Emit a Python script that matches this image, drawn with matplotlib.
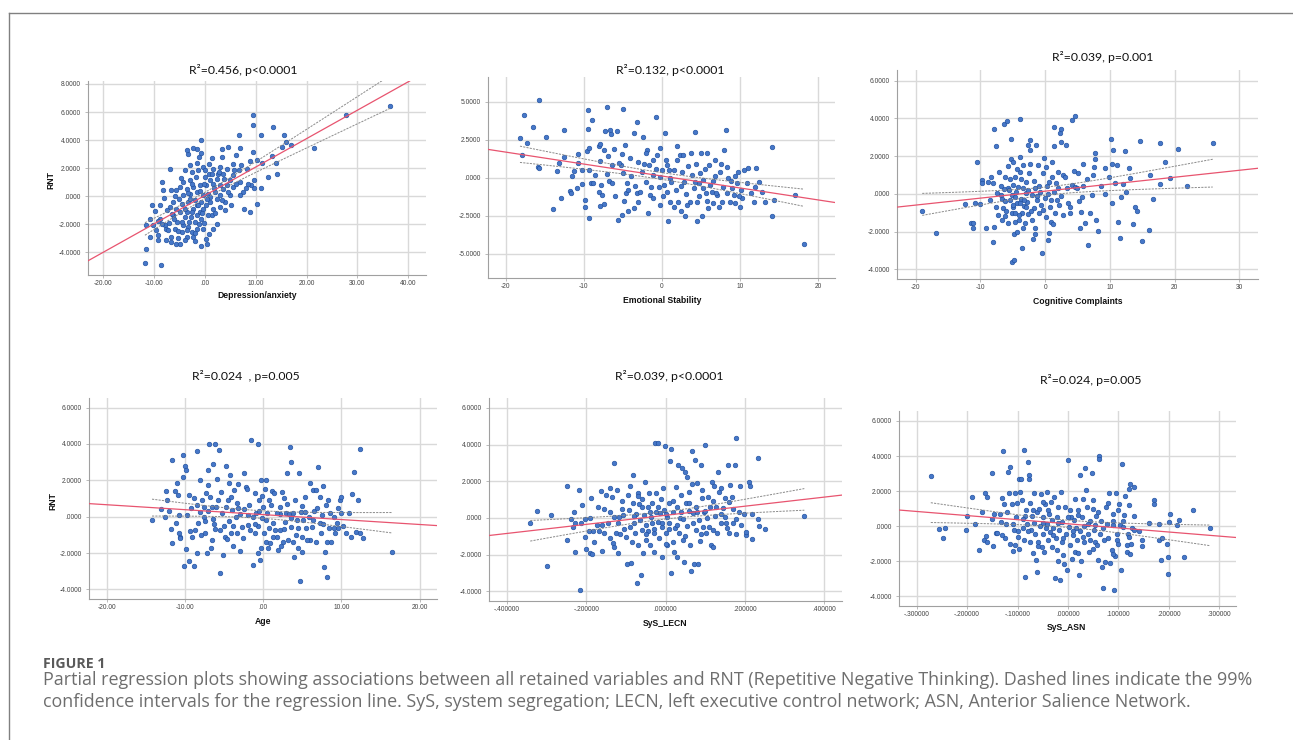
import numpy as np
import matplotlib.pyplot as plt
from matplotlib.lines import Line2D
from matplotlib.ticker import FuncFormatter, MultipleLocator

W, H = 1293, 740

# Partial residuals (x residual, RNT residual)
dep_pts = [
    (36.4, 6.44), (27.7, 5.77), (21.4, 3.45), (17.0, 3.64), (15.9, 3.83), (15.5, 4.35), (15.1, 3.52),
    (13.4, 4.9), (13.9, 2.38), (14.1, 1.62), (13.2, 2.85), (12.4, 1.38), (11.0, 4.35), (11.3, 2.4),
    (11.0, 0.59), (10.2, 2.61), (10.3, -0.52), (9.5, 5.77), (9.4, 5.1), (9.5, 3.16), (9.7, 1.14),
    (9.7, 0.59), (8.9, 2.5), (9.0, 0.83), (8.9, -1.12), (7.7, -0.93), (7.5, 0.31), (8.0, 0.62),
    (8.5, 0.9), (6.7, 4.35), (7.0, 3.45), (6.2, 2.92), (5.6, 2.33), (6.8, 1.85), (6.9, 1.02),
    (5.2, -0.64), (4.6, 3.52), (3.3, 3.35), (3.4, 2.8), (3.0, 2.1), (3.6, 1.62), (1.3, 2.69),
    (1.6, 1.97), (1.6, 0.9), (0.9, 1.62), (-0.3, 2.1), (0.0, 1.38), (0.3, 0.78), (0.7, 0.19),
    (1.1, -0.4), (1.3, -1.35), (1.5, -2.35), (2.3, -1.95), (0.2, -3.02), (0.5, -3.37), (-0.8, -3.54),
    (-0.7, 3.99), (-0.8, 3.11), (-1.6, 3.35), (-2.3, 3.45), (-3.3, 2.99), (-3.6, 3.28), (-1.6, 2.4),
    (-1.4, 1.85), (-2.6, 1.73), (-3.9, 1.85), (-3.0, 1.14), (-4.3, 1.02), (-4.9, 0.67), (-5.6, 0.43),
    (-6.9, 1.97), (-6.6, 0.43), (-6.2, -0.4), (-8.5, 1.02), (-8.2, 0.43), (-8.1, -0.12), (-10.5, -0.64),
    (-9.8, -1.07), (-10.8, -1.59), (-8.9, -1.59), (-9.2, -1.78), (-10.3, -2.07), (-11.5, -2.07),
    (-10.8, -2.9), (-9.2, -2.78), (-9.2, -3.14), (-7.9, -2.07), (-7.7, -2.3), (-6.6, -2.9),
    (-6.6, -3.26), (-7.7, -3.14), (-11.5, -3.73), (-11.8, -4.73), (-8.7, -4.87), (-5.6, -3.37),
    (-4.9, -3.37), (-5.2, -2.97), (-3.6, -2.9), (-2.3, -2.9), (-2.6, -2.54), (-1.6, -2.3),
    (-1.1, -1.95), (-0.3, -2.3), (-3.1, -1.83), (-4.3, -2.07), (-5.4, -1.83), (-6.2, -1.35),
    (-4.9, -1.12), (-3.6, -1.12), (-2.3, -0.88), (-1.6, -1.35), (-1.0, -1.12), (-0.3, -0.88),
    (0.3, -0.64), (-0.7, -0.4), (-2.0, -0.29), (-3.3, -0.4), (-4.6, -0.52), (-5.6, -0.88),
    (-6.9, -0.76), (-4.3, 0.07), (-3.0, 0.19), (-1.6, 0.31), (-0.3, 0.07), (1.0, -0.05), (2.0, 0.31),
    (2.3, -0.17), (3.0, 0.07), (3.6, 0.55), (4.3, 0.78), (4.9, 1.14), (5.6, 0.67), (3.0, 0.78),
    (2.3, 1.26), (1.0, 1.14), (-1.0, 0.78), (-2.3, 0.67), (-3.6, 0.55), (-3.0, -0.17), (-1.6, -0.64),
    (-2.6, -1.12), (-3.9, -1.47), (-4.6, -1.83), (-5.9, -2.3), (-7.2, -2.42), (-8.5, -1.95),
    (-4.6, -2.54), (-3.3, -2.19), (-2.0, -1.83), (-0.7, -1.59), (0.7, -1.35), (1.6, -0.88),
    (3.0, -0.76), (3.9, -0.4), (4.9, 0.07), (6.9, 0.07), (5.6, 1.5), (8.2, 1.97), (4.3, 1.97),
    (2.6, 1.62), (0.0, 1.85),
    (-7.5, -1.0), (-6.0, -1.6), (-5.0, -0.2), (-4.0, -0.9), (-3.5, -2.4), (-2.8, -1.5), (-2.0, -2.6),
    (-1.3, -0.6), (-0.5, -1.2), (0.5, -0.2), (1.8, 0.6), (2.8, 1.7), (3.8, 1.2), (4.5, 0.3),
    (5.8, 1.9), (-0.9, 0.4), (-2.6, 0.9), (-4.8, 1.3), (-6.4, -1.3), (-7.1, -1.9), (-5.3, -2.5),
    (-3.9, -3.1), (-1.9, -3.2), (0.9, -2.7), (2.0, -1.2), (3.3, -0.3), (-0.2, 0.9), (1.4, 1.6),
    (-1.8, 1.4), (-3.4, 0.2), (-5.8, 0.0), (-8.9, -0.6), (-9.6, -2.4), (-0.1, -1.9), (4.0, -1.0),
    (6.2, 0.9), (7.2, 2.2), (-1.2, 2.8), (-2.9, 2.2), (0.8, 2.3),
]

emo_pts = [
    (-15.8, 5.09), (-17.7, 4.12), (-18.2, 2.59), (-17.3, 2.26), (-16.5, 3.31), (-14.8, 2.70), (-12.6, 3.14),
    (-17.9, 1.50), (-15.9, 0.69), (-15.7, 0.67), (-12.6, 1.39), (-13.2, 1.0), (-13.5, 0.45), (-14.0, -2.05),
    (-12.9, -1.30), (-11.8, -0.86), (-11.7, -1.02), (-11.3, 0.45), (-10.8, 1.54), (-10.7, 0.95),
    (-10.9, -0.69), (-10.2, -0.43), (-10.2, 0.51), (-9.9, -1.45), (-9.6, 1.76), (-9.4, 1.94), (-9.5, 4.45),
    (-9.5, 3.21), (-9.0, 3.80), (-9.3, -2.66), (-9.3, 0.51), (-9.1, -0.36), (-8.8, -0.36), (-8.1, 2.11),
    (-7.9, 2.19), (-8.0, 1.10), (-8.1, -0.91), (-8.0, -1.83), (-7.7, -1.13), (-7.4, 1.83), (-7.3, 3.07),
    (-7.1, 4.63), (-6.6, 3.14), (-6.5, 2.86), (-7.4, -1.74), (-7.1, 0.23), (-6.8, -0.19), (-6.4, -0.36),
    (-6.2, 1.87), (-6.4, 0.84), (-5.7, 3.07), (-5.6, -2.76), (-5.1, -2.44), (-5.0, 4.52), (-5.1, 1.56),
    (-5.3, 0.84), (-5.0, 0.30), (-4.7, 2.15), (-4.9, -1.50), (-4.6, -1.02), (-4.3, -0.80), (-4.5, -0.36),
    (-4.1, 1.28), (-3.6, 2.96), (-3.2, 3.69), (-3.4, -0.51), (-3.6, -2.0), (-3.2, -1.02), (-3.1, 1.02),
    (-2.8, -0.91), (-2.4, 2.70), (-2.6, 0.40), (-2.1, -0.25), (-1.9, 1.83), (-1.7, 0.84), (-1.5, -1.13),
    (-1.2, 1.17), (-1.1, -1.34), (-1.1, 0.19), (-0.7, 4.02), (-0.6, 1.50), (-0.4, -0.58), (-0.2, 1.94),
    (-0.2, 0.08), (0.0, 0.51), (0.3, -0.47), (0.4, 2.92), (0.6, 0.84), (0.6, -0.91), (0.8, -2.81),
    (0.9, 0.51), (1.1, -1.56), (1.2, -0.25), (1.5, 0.51), (1.6, -1.89), (1.9, 1.17), (2.1, -1.56),
    (2.3, 1.50), (2.4, -0.53), (2.4, -2.18), (2.7, 1.50), (2.8, -0.25), (3.1, -1.08), (3.4, 0.78),
    (3.6, -1.56), (3.7, 1.61), (4.1, -0.69), (4.3, 3.03), (4.4, 0.91), (4.5, -2.83), (4.5, -1.56),
    (4.7, -0.36), (4.9, 0.30), (5.0, 1.65), (5.1, -2.48), (5.3, -0.64), (5.3, -0.14), (5.6, -1.02),
    (5.8, 1.65), (5.8, -1.50), (6.0, 0.84), (6.2, -0.47), (6.4, -0.91), (6.6, -1.67), (6.8, 0.12),
    (7.1, -1.13), (7.3, -1.89), (7.4, 0.40), (7.7, -1.56), (7.9, -0.58), (8.0, 1.83), (8.2, 3.14),
    (8.3, -1.02), (8.5, -0.03), (8.7, -1.56), (9.0, -0.69), (9.2, -1.13), (9.4, -1.67), (9.6, -0.36),
    (9.8, 0.40), (10.0, -1.89), (10.3, -1.34), (10.5, 0.51), (10.9, -0.36), (11.1, 0.62), (11.8, -1.56),
    (12.0, -0.58), (12.1, 0.62), (12.4, -0.30), (13.2, -1.56), (14.1, 2.05), (14.1, -2.48), (14.4, -1.45),
    (17.1, -1.13), (18.2, -4.34),
    (-8.6, 0.2), (-7.8, -0.5), (-6.0, -1.2), (-5.5, 1.0), (-4.0, 0.1), (-3.0, -1.6), (-2.3, 0.9),
    (-1.4, -0.6), (-0.8, 0.6), (0.2, -1.2), (1.0, 0.0), (1.8, -0.8), (2.6, 0.4), (3.2, -1.8),
    (3.9, 0.2), (4.8, -1.2), (5.5, 0.6), (6.5, -0.2), (7.0, -1.0), (7.6, 0.9), (8.8, -0.2),
    (9.4, 0.1), (10.2, -0.8), (11.4, -1.0), (-11.5, 0.1), (-9.8, -1.9), (-6.9, 1.4), (-4.4, -2.2),
    (-2.0, 1.6), (0.5, 1.2), (2.0, 2.1), (3.0, -2.5), (5.9, -2.0), (6.8, 1.2), (8.4, 0.7),
    (-1.8, -2.3), (-0.3, -1.8), (4.2, -0.3), (9.9, -1.2), (12.8, -0.9),
]

cog_pts = [
    (-19.0, -0.93), (-16.9, -2.06), (-12.4, -0.56), (-11.5, -1.56), (-11.1, -1.56), (-11.1, -1.78),
    (-10.9, -0.47), (-10.6, 1.71), (-10.0, -0.54), (-9.7, 0.74), (-9.7, 0.56), (-9.1, -1.78), (-8.8, 0.65),
    (-8.3, 0.91), (-8.0, 0.59), (-8.0, -2.57), (-7.9, 3.44), (-7.9, -1.74), (-7.6, 2.54), (-7.6, -0.68),
    (-7.5, 0.06), (-7.1, 1.18), (-6.8, -0.06), (-6.7, -0.29), (-6.6, -1.39), (-6.5, -0.77), (-6.4, 3.69),
    (-6.3, 0.26), (-6.2, -1.18), (-6.2, 0.91), (-5.9, 3.88), (-5.8, 1.48), (-5.7, -1.53), (-5.7, 0.33),
    (-5.4, -0.33), (-5.3, 2.91), (-5.3, 1.83), (-5.2, -3.59), (-5.2, -0.06), (-5.1, -1.0), (-5.0, 0.47),
    (-4.9, 1.71), (-4.9, -0.68), (-4.8, -3.51), (-4.8, -2.12), (-4.7, 0.91), (-4.7, -1.48), (-4.6, -0.15),
    (-4.4, -2.0), (-4.3, -0.47), (-4.2, 0.38), (-4.0, -1.39), (-3.9, 3.97), (-3.9, 1.94), (-3.9, 1.18),
    (-3.8, -0.29), (-3.6, -2.89), (-3.6, -1.0), (-3.5, 0.29), (-3.4, 1.53), (-3.3, -0.65), (-3.1, -1.53),
    (-3.0, 0.03), (-2.9, 0.65), (-2.8, -0.41), (-2.6, 2.59), (-2.6, -1.07), (-2.5, 1.09), (-2.4, 2.86),
    (-2.3, 2.32), (-2.1, -0.06), (-1.9, -2.41), (-1.8, -0.77), (-1.6, -1.83), (-1.5, 0.29), (-1.4, 2.59),
    (-1.3, -0.33), (-1.1, 1.53), (-1.0, -1.03), (-0.8, 0.12), (-0.5, -3.12), (-0.4, -0.86), (-0.3, 1.09),
    (0.0, -0.24), (0.1, 1.44), (0.2, -1.21), (0.5, -2.45), (0.6, 0.65), (0.6, -2.09), (0.7, -0.68),
    (0.9, -1.48), (1.0, 0.91), (1.1, 1.71), (1.3, 3.53), (1.3, 2.54), (1.4, 0.12), (1.5, -1.0),
    (1.8, -0.33), (2.0, 1.18), (2.1, -0.59), (2.3, 3.21), (2.4, 2.77), (2.5, 3.42), (2.7, 1.0),
    (2.8, -1.12), (3.2, 2.59), (3.3, 0.29), (3.6, -0.5), (3.8, -1.03), (4.1, 0.47), (4.2, 3.92),
    (4.6, 4.13), (4.6, 0.38), (4.9, 0.29), (5.1, 1.09), (5.3, -0.36), (5.4, -1.83), (5.5, -0.94),
    (5.7, -0.15), (5.9, 1.58), (6.1, -1.56), (6.4, 0.77), (6.7, -2.71), (7.2, -0.06), (7.4, 1.0),
    (7.6, 1.44), (7.7, 2.15), (7.7, 1.83), (7.8, -1.39), (8.1, -1.95), (9.3, 0.0), (9.2, 1.35),
    (9.8, 0.91), (10.2, 2.91), (10.3, -0.5), (10.3, 1.58), (10.5, 2.32), (10.8, 0.59), (11.1, 1.53),
    (11.2, -1.48), (11.6, -2.36), (11.8, -0.15), (12.1, 0.52), (12.4, 2.27), (12.5, 0.12), (12.9, 1.35),
    (13.1, 0.82), (13.6, -1.62), (13.9, -0.68), (14.2, -0.88), (14.6, 2.82), (14.9, -2.5), (16.2, 1.0),
    (16.7, -0.26), (16.0, -1.92), (17.8, 0.52), (17.7, 2.68), (18.6, 1.71), (19.3, 0.86), (20.6, 2.36),
    (21.9, 0.42), (25.9, 2.71),
    (-6.9, 0.4), (-6.0, -0.9), (-5.5, 0.8), (-5.0, -0.6), (-4.5, 0.1), (-4.1, -1.1), (-3.7, 0.8),
    (-3.2, -0.3), (-2.7, 0.2), (-2.2, -0.9), (-1.7, 0.7), (-1.2, -0.1), (-0.6, -0.6), (0.3, 0.4),
    (0.9, -0.3), (1.6, 0.6), (2.4, -0.1), (3.0, 0.9), (-3.5, -1.8), (-2.0, -1.4), (-6.2, -0.4),
    (-4.4, 1.3), (-2.4, 1.6), (-0.2, 1.9), (1.2, -1.6), (3.9, -0.7), (4.4, 1.2), (5.8, 0.4),
    (7.0, -1.0), (8.6, 0.4), (-7.3, -1.1), (-8.6, -0.3), (-1.5, -2.1), (0.4, 0.0), (-3.9, -0.5),
    (-5.6, 0.2), (2.0, 0.3), (-2.9, -0.7), (-4.6, -1.0), (-1.0, 0.4),
]

age_pts = [
    (-14.2, -0.19), (-13.1, 0.41), (-12.6, -0.01), (-12.4, 1.40), (-12.3, 0.91), (-11.6, 3.11), (-11.6, -1.47),
    (-11.3, 1.42), (-11.1, -0.37), (-11.0, 1.85), (-10.9, 1.18), (-10.8, -0.92), (-10.7, 0.08), (-10.6, -1.11),
    (-10.6, -1.20), (-10.3, 3.42), (-10.3, 2.19), (-10.1, -2.72), (-10.0, 2.81), (-9.8, 2.56), (-9.7, 0.08),
    (-9.5, 1.22), (-9.5, -2.43), (-9.3, -0.78), (-9.1, -1.11), (-8.9, 1.00), (-8.9, -2.70), (-8.7, -0.74),
    (-8.5, 0.64), (-8.4, 3.62), (-8.4, -2.02), (-8.3, -0.37), (-8.1, 2.04), (-8.1, 0.27), (-7.8, 0.91),
    (-7.6, -0.01), (-7.5, 0.54), (-7.4, -0.24), (-7.4, -0.88), (-7.2, -2.02), (-7.1, 2.59), (-7.0, 1.73),
    (-7.0, 0.32), (-6.9, 4.02), (-6.8, 1.09), (-6.7, -1.71), (-6.6, 0.54), (-6.4, 2.92), (-6.4, -0.15),
    (-6.2, 3.98), (-6.1, -0.70), (-6.0, 0.54), (-5.9, 2.10), (-5.7, 3.66), (-5.5, -3.08), (-5.5, -0.74),
    (-5.4, 1.36), (-5.3, 0.18), (-5.1, -2.11), (-4.9, -1.11), (-4.8, 2.77), (-4.7, 0.54), (-4.6, -1.25),
    (-4.4, 1.83), (-4.4, -0.23), (-4.2, 2.28), (-4.1, -0.92), (-4.0, 0.36), (-3.8, -0.52), (-3.7, 1.46),
    (-3.5, -0.01), (-3.4, 0.73), (-3.3, -0.92), (-3.2, 1.81), (-3.0, 0.14), (-2.7, -0.56), (-2.4, 0.40),
    (-2.2, 1.64), (-2.1, 1.55), (-2.0, -0.47), (-1.8, 0.64), (-1.7, -0.74), (-1.5, 4.20), (-1.3, -2.66),
    (-1.3, -0.01), (-1.1, 1.31), (-1.0, -0.92), (-0.9, 0.18), (-0.7, 4.02), (-0.7, -2.02), (-0.6, -0.52),
    (-0.5, 0.91), (-0.4, -2.39), (-0.3, 2.01), (-0.3, -1.71), (-0.2, -0.10), (-0.1, 1.13), (0.0, 0.54),
    (0.1, -0.92), (0.2, 1.51), (0.4, -1.38), (0.4, 2.01), (0.5, 0.18), (0.7, -0.65), (0.9, -1.47),
    (1.0, 0.64), (1.1, 1.42), (1.2, -0.37), (1.4, 1.31), (1.5, -0.74), (1.7, -1.14), (1.9, -1.83),
    (2.1, 0.54), (2.1, 0.14), (2.2, -0.74), (2.4, 1.37), (2.5, -1.38), (2.6, 1.00), (2.8, -0.28),
    (2.9, 0.18), (3.1, 2.38), (3.2, -1.29), (3.3, 0.14), (3.4, 3.86), (3.6, 3.01), (3.6, -0.56),
    (3.8, 0.21), (3.8, -1.38), (3.9, -2.20), (4.1, 0.91), (4.3, -0.19), (4.4, -1.73), (4.5, -0.65),
    (4.6, 2.38), (4.7, -3.54), (4.8, 0.27), (4.9, -1.11), (5.0, -1.93), (5.1, -0.19), (5.3, 0.27),
    (5.5, -0.65), (5.8, -0.01), (6.0, -1.29), (6.0, 1.86), (6.2, -0.56), (6.4, 1.46), (6.5, 0.32),
    (6.7, -1.38), (6.8, 1.46), (7.0, 2.74), (7.2, 1.09), (7.2, -0.37), (7.5, 0.08), (7.6, 1.68),
    (7.8, -2.79), (7.9, -1.93), (8.0, 0.64), (8.1, -1.38), (8.2, -3.34), (8.3, 0.91), (8.4, -0.65),
    (8.7, -1.38), (9.0, -0.01), (9.2, -0.92), (9.4, -0.37), (9.6, -0.65), (9.8, 0.91), (10.0, 1.09),
    (10.0, 0.21), (10.2, -0.52), (10.6, -0.92), (11.0, 0.18), (11.2, -1.11), (11.3, 1.27), (11.6, 2.46),
    (11.8, -0.83), (12.1, 0.91), (12.4, -0.92), (12.4, 3.75), (12.8, -1.20), (16.5, -1.93),
    (-9.2, 0.5), (-8.0, -1.0), (-7.3, 1.3), (-6.3, -0.4), (-5.8, 0.9), (-5.0, -0.5), (-4.5, 0.9),
    (-3.9, -1.6), (-3.2, 0.5), (-2.6, -1.2), (-1.9, 0.1), (-1.1, -0.4), (-0.5, 0.3), (0.3, -0.2),
    (0.8, 0.9), (1.3, -1.1), (1.8, 0.2), (2.6, -0.7), (3.0, 0.7), (3.5, -0.1), (4.2, -1.0),
    (4.9, 0.6), (5.6, -1.3), (6.3, -0.2), (6.9, 0.5), (7.4, -0.9), (8.5, 0.2), (9.1, -0.6),
    (-12.0, 0.3), (-11.8, -0.7), (-9.9, -1.8), (-6.6, -1.3), (-2.9, -1.9), (0.6, -1.7), (2.3, -1.6),
    (5.4, 1.1), (7.7, -0.4), (9.5, 0.5), (-4.1, 1.1), (-2.5, 2.4),
]

lecn_pts = [
    (-0.341, -0.26), (-0.324, 0.37), (-0.299, -2.62), (-0.288, 0.17), (-0.249, 1.75), (-0.249, -1.21),
    (-0.238, -0.08), (-0.233, -0.52), (-0.231, 0.30), (-0.229, -1.88), (-0.227, -0.30), (-0.217, 1.52),
    (-0.215, -3.93), (-0.213, -0.30), (-0.204, -1.06), (-0.203, -0.08), (-0.200, -1.72), (-0.194, -0.70),
    (-0.190, -1.89), (-0.187, 1.06), (-0.185, -1.97), (-0.182, -0.70), (-0.173, -0.39), (-0.168, -0.72),
    (-0.162, 1.48), (-0.160, -1.79), (-0.156, 0.46), (-0.154, -0.81), (-0.150, 1.24), (-0.146, -0.26),
    (-0.141, 1.64), (-0.140, -1.11), (-0.135, 1.12), (-0.133, -1.39), (-0.131, 0.07), (-0.129, 3.00),
    (-0.125, -0.81), (-0.123, 1.55), (-0.121, -1.89), (-0.116, 0.07), (-0.115, -0.88), (-0.110, 0.94),
    (-0.108, 0.16), (-0.104, -0.63), (-0.100, -1.02), (-0.097, -2.51), (-0.095, 1.24), (-0.093, 0.43),
    (-0.090, 1.74), (-0.087, -2.48), (-0.085, -1.30), (-0.083, 0.79), (-0.081, 2.33), (-0.079, -0.26),
    (-0.076, -0.84), (-0.074, 0.21), (-0.072, -3.53), (-0.070, 1.34), (-0.069, -1.48), (-0.066, 0.75),
    (-0.064, -0.12), (-0.062, -3.11), (-0.060, -0.66), (-0.058, 1.01), (-0.056, -1.93), (-0.054, 0.16),
    (-0.051, 1.97), (-0.049, -1.21), (-0.048, -0.39), (-0.045, 0.61), (-0.043, -0.70), (-0.041, 1.34),
    (-0.039, -1.48), (-0.037, 0.07), (-0.034, 0.83), (-0.033, -0.30), (-0.030, -0.84), (-0.028, -1.84),
    (-0.026, 4.06), (-0.024, 0.34), (-0.023, 1.37), (-0.020, 4.06), (-0.018, -0.21), (-0.016, -1.11),
    (-0.014, 0.25), (-0.012, 1.01), (-0.009, -2.15), (-0.008, -0.48), (-0.006, 1.64), (-0.003, 0.43),
    (-0.002, 3.92), (0.001, -0.84), (0.003, 0.07), (0.005, -1.48), (0.008, 0.79), (0.009, -0.30),
    (0.012, 3.09), (0.013, -3.02), (0.015, 3.78), (0.018, -1.30), (0.019, 0.34), (0.022, -1.84),
    (0.024, -0.57), (0.026, 1.70), (0.028, -2.11), (0.030, 0.61), (0.032, 2.91), (0.034, -0.84),
    (0.036, -0.03), (0.038, 1.24), (0.041, 2.75), (0.043, -1.21), (0.044, -0.08), (0.047, -2.39),
    (0.049, 2.51), (0.051, 0.79), (0.053, 2.24), (0.055, -0.44), (0.058, 0.39), (0.061, -1.48),
    (0.064, -2.88), (0.066, 3.64), (0.068, 1.84), (0.069, 0.25), (0.072, -2.51), (0.074, 3.15),
    (0.076, -0.66), (0.078, 0.61), (0.080, 1.88), (0.083, -2.51), (0.085, -0.12), (0.087, -1.24),
    (0.089, 2.88), (0.091, 1.06), (0.093, 1.52), (0.095, -0.48), (0.097, 0.34), (0.100, 4.00),
    (0.101, -0.84), (0.105, -0.03), (0.108, 1.15), (0.111, 0.61), (0.114, -1.48), (0.116, 1.97),
    (0.120, -0.66), (0.122, 1.74), (0.125, 0.10), (0.128, 0.61), (0.133, 2.51), (0.135, 1.43),
    (0.139, -0.30), (0.141, 1.61), (0.145, 0.52), (0.150, 0.07), (0.153, -0.26), (0.156, -0.57),
    (0.158, 2.88), (0.160, 0.88), (0.162, 1.79), (0.167, 1.12), (0.170, -0.26), (0.175, 2.88),
    (0.177, -0.08), (0.179, 4.38), (0.179, -0.88), (0.185, 0.34), (0.189, 1.74), (0.197, 0.21),
    (0.202, -0.93), (0.203, -0.75), (0.210, 1.97), (0.212, 1.74), (0.217, -1.13), (0.218, 0.21),
    (0.233, 3.27), (0.233, -0.08), (0.235, -0.44), (0.250, -0.62), (0.350, 0.10),
    (-0.19, 0.0), (-0.17, 0.6), (-0.16, -0.4), (-0.14, 0.3), (-0.12, -0.3), (-0.11, 0.5), (-0.09, -0.5),
    (-0.08, 0.1), (-0.06, 0.6), (-0.05, -0.9), (-0.04, 0.3), (-0.03, -0.6), (-0.02, 0.6), (-0.01, -0.3),
    (0.00, 0.2), (0.01, -0.6), (0.02, 0.9), (0.03, -0.4), (0.04, 0.3), (0.05, -1.0), (0.06, 0.8),
    (0.07, -0.3), (0.08, 0.3), (0.09, -0.9), (0.10, 0.4), (0.11, -0.5), (0.12, 0.9), (0.13, -0.8),
    (0.14, 0.2), (0.16, -0.8), (0.17, 0.5), (0.19, -0.4), (-0.21, 0.7), (-0.18, -1.3), (-0.13, -1.6),
    (-0.07, 1.2), (0.0, -1.4), (0.06, 1.4), (0.12, -1.6), (0.15, 1.1),
]

asn_pts = [
    (-0.272, 2.86), (-0.255, -0.17), (-0.247, -0.67), (-0.244, -0.08), (-0.202, -0.19), (-0.191, 1.68),
    (-0.184, 0.11), (-0.176, -1.37), (-0.166, -0.76), (-0.164, 1.87), (-0.162, -0.55), (-0.160, 1.68),
    (-0.151, 3.05), (-0.148, -1.12), (-0.146, 0.69), (-0.143, -0.38), (-0.140, -0.38), (-0.135, 0.72),
    (-0.133, 0.25), (-0.129, 4.29), (-0.126, 1.26), (-0.125, -0.70), (-0.123, 0.11), (-0.118, 3.10),
    (-0.116, 1.90), (-0.115, -0.99), (-0.114, 3.39), (-0.111, 1.26), (-0.109, 0.11), (-0.108, -0.23),
    (-0.106, -1.09), (-0.105, 1.87), (-0.103, 0.53), (-0.102, 1.33), (-0.100, -0.27), (-0.098, -1.31),
    (-0.097, 2.67), (-0.095, 1.96), (-0.094, 2.72), (-0.092, 1.49), (-0.090, -0.13), (-0.088, -0.76),
    (-0.087, 4.34), (-0.086, 0.59), (-0.085, -2.90), (-0.083, 0.95), (-0.082, 0.15), (-0.080, 3.68),
    (-0.078, 2.91), (-0.077, 2.67), (-0.076, -0.90), (-0.075, 1.30), (-0.074, -0.19), (-0.072, 0.57),
    (-0.070, -1.52), (-0.068, 1.90), (-0.067, 0.19), (-0.065, -0.42), (-0.063, -1.90), (-0.062, 0.82),
    (-0.061, -2.61), (-0.059, -0.90), (-0.057, 1.01), (-0.055, 0.00), (-0.054, 1.83), (-0.052, -1.18),
    (-0.050, 0.53), (-0.049, -0.42), (-0.047, -1.47), (-0.045, 1.24), (-0.044, -0.13), (-0.042, 0.15),
    (-0.041, 1.96), (-0.039, -0.76), (-0.037, 0.72), (-0.035, -0.32), (-0.034, 1.39), (-0.032, -1.18),
    (-0.031, 0.38), (-0.029, -0.13), (-0.027, 1.64), (-0.025, -2.93), (-0.024, -0.70), (-0.022, 0.53),
    (-0.021, -1.33), (-0.019, 1.10), (-0.017, -0.19), (-0.016, -3.05), (-0.014, 1.96), (-0.012, -0.90),
    (-0.011, 0.25), (-0.009, -1.66), (-0.008, -2.17), (-0.006, 1.10), (-0.004, -0.42), (-0.002, -2.51),
    (-0.001, 3.77), (0.001, -0.04), (0.003, 0.95), (0.004, -1.09), (0.006, 0.53), (0.008, -1.85),
    (0.010, -0.51), (0.011, 0.34), (0.013, 1.58), (0.014, -1.47), (0.016, -0.08), (0.018, -0.80),
    (0.019, 0.63), (0.021, -2.80), (0.023, -0.27), (0.024, 2.91), (0.025, -1.98), (0.027, 0.53),
    (0.029, 1.58), (0.031, -0.90), (0.032, 0.00), (0.034, 3.30), (0.036, 2.06), (0.037, 1.10),
    (0.039, -0.42), (0.041, -1.47), (0.043, 0.30), (0.044, -0.76), (0.047, 3.05), (0.049, 1.01),
    (0.051, -0.23), (0.053, -0.90), (0.054, 0.06), (0.056, 0.57), (0.058, -1.09), (0.061, 4.00),
    (0.062, 3.81), (0.064, -0.42), (0.066, 0.30), (0.067, -2.32), (0.069, -3.50), (0.072, -0.80),
    (0.074, -2.02), (0.076, 1.10), (0.077, 0.10), (0.080, 1.30), (0.082, 1.87), (0.084, -2.10),
    (0.087, -1.37), (0.089, 0.72), (0.090, 0.06), (0.092, -3.62), (0.094, -1.71), (0.096, 1.87),
    (0.097, -0.42), (0.098, -0.76), (0.100, 0.95), (0.102, 1.26), (0.104, 0.06), (0.105, -2.51),
    (0.107, 3.52), (0.109, -0.04), (0.111, 0.63), (0.113, 1.71), (0.116, -1.47), (0.117, -1.09),
    (0.118, -0.42), (0.120, 1.20), (0.121, 2.10), (0.122, 2.40), (0.123, -1.56), (0.125, -0.99),
    (0.127, -0.13), (0.130, 2.25), (0.131, -0.23), (0.146, -0.80), (0.146, -1.14), (0.171, 1.49),
    (0.171, 1.26), (0.180, 0.15), (0.180, -0.80), (0.184, -1.90), (0.186, -0.65), (0.196, -1.03),
    (0.199, -2.70), (0.199, -1.75), (0.201, 0.25), (0.203, 0.72), (0.217, 0.06), (0.221, 0.38),
    (0.229, -1.75), (0.248, 0.91), (0.282, -0.08),
    (-0.15, 0.4), (-0.13, -0.5), (-0.12, 0.8), (-0.10, -0.6), (-0.09, 0.4), (-0.08, -0.3), (-0.07, 0.9),
    (-0.06, -1.1), (-0.05, 0.2), (-0.04, 0.9), (-0.03, -0.5), (-0.02, 0.2), (-0.01, -0.7), (0.00, 0.5),
    (0.01, -0.3), (0.02, 0.9), (0.03, -0.6), (0.04, 0.1), (0.05, -1.3), (0.06, 0.8), (0.07, -0.1),
    (0.08, -0.7), (0.09, 0.3), (0.10, -1.0), (0.11, 0.3), (0.12, -0.6), (0.13, 0.6), (-0.17, 0.8),
    (-0.16, -0.9), (-0.11, -1.4), (-0.05, 1.4), (0.02, -1.5), (0.05, 1.5), (0.09, -1.6), (0.14, -0.3),
    (-0.13, 1.6), (-0.02, -2.0), (0.06, -1.9), (0.16, 0.2), (-0.20, 0.6),
]

titles = ["R²=0.456, p<0.0001", "R²=0.132, p<0.0001", "R²=0.039, p=0.001",
          "R²=0.024  , p=0.005", "R²=0.039, p<0.0001", "R²=0.024, p=0.005"]
xlabels = ["Depression/anxiety", "Emotional Stability", "Cognitive Complaints",
           "Age", "SyS_LECN", "SyS_ASN"]
ylabels = ["RNT", "", "", "RNT", "", ""]
caption_head = "FIGURE 1"
caption_lines = [
    "Partial regression plots showing associations between all retained variables and RNT "
    "(Repetitive Negative Thinking). Dashed lines indicate the 99%",
    "confidence intervals for the regression line. SyS, system segregation; LECN, left executive "
    "control network; ASN, Anterior Salience Network.",
]
n_sample = 355     # approx. number of participants per panel
t_99 = 2.59        # two-sided 99% t critical value, df ~ 350

# layout in pixels: axes box (left, top, right, bottom), limits, ticks, text anchors
layout = [
    dict(box=(88, 81, 426, 275), xlim=(-23.0, 43.5), ylim=(-5.61, 8.21), xstep=10, ystep=2,
         xdec=2, ydec=4, title_at=(243.5, 70), xlab_at=(257.5, 295), ylab_at=(50.7, 180)),
    dict(box=(488, 77, 835, 278), xlim=(-22.3, 22.2), ylim=(-6.58, 6.62), xstep=10, ystep=2.5,
         xdec=0, ydec=4, title_at=(670, 70), xlab_at=(662, 300), ylab_at=None),
    dict(box=(897, 70, 1258, 279), xlim=(-22.9, 32.9), ylim=(-4.51, 6.57), xstep=10, ystep=2,
         xdec=0, ydec=4, title_at=(1102.5, 57), xlab_at=(1078, 301.5), ylab_at=None),
    dict(box=(89, 398, 437, 599), xlim=(-22.25, 22.2), ylim=(-4.53, 6.53), xstep=10, ystep=2,
         xdec=2, ydec=4, title_at=(246, 375.5), xlab_at=(263, 621), ylab_at=(53.3, 501)),
    dict(box=(489, 398, 842, 601), xlim=(-0.445, 0.445), ylim=(-4.53, 6.54), xstep=0.2, ystep=2,
         xdec=6, ydec=4, title_at=(669.5, 375.5), xlab_at=(665, 623.5), ylab_at=None),
    dict(box=(899, 411, 1236, 606), xlim=(-0.335, 0.333), ylim=(-4.55, 6.57), xstep=0.1, ystep=2,
         xdec=6, ydec=4, title_at=(1091, 380.5), xlab_at=(1066, 628), ylab_at=None),
]
panel_pts = [dep_pts, emo_pts, cog_pts, age_pts, lecn_pts, asn_pts]


def fx(px):
    return px / W


def fy(py):
    return 1 - py / H


# SPSS style numbers: ".00", "-.200000"
def spss_fmt(dec):
    def f(v, pos):
        if abs(v) < 1e-12:
            v = 0.0
        s = f"{v:.{dec}f}"
        if s.startswith("0."):
            s = s[1:]
        elif s.startswith("-0."):
            s = "-" + s[2:]
        return s
    return FuncFormatter(f)


fig = plt.figure(figsize=(W / 100, H / 100), dpi=100)
fig.patch.set_facecolor("white")

for pts, lay, title, xlab, ylab in zip(panel_pts, layout, titles, xlabels, ylabels):
    L, T, R, B = lay["box"]
    ax = fig.add_axes([fx(L), fy(B), (R - L) / W, (B - T) / H])
    xy = np.array(pts)
    x, y = xy[:, 0], xy[:, 1]

    ax.scatter(x, y, s=11, c="#4677c8", edgecolors="#1f4f9e", linewidths=0.45, zorder=3)

    # least squares line and 99% confidence band for the mean
    m, b = np.polyfit(x, y, 1)
    ax.axline((0, b), slope=m, color="#e8546f", lw=0.9, zorder=4)
    resid = y - (m * x + b)
    s = np.sqrt(np.sum(resid ** 2) / (len(x) - 2))
    xs = np.linspace(x.min(), x.max(), 120)
    half = t_99 * s * np.sqrt(1 / n_sample + (xs - x.mean()) ** 2 / (n_sample * x.var()))
    for sign in (1, -1):
        ax.plot(xs, m * xs + b + sign * half, color="#8a8a8a", lw=0.7,
                ls=(0, (2.2, 1.2)), zorder=4)

    ax.set_xlim(*lay["xlim"])
    ax.set_ylim(*lay["ylim"])
    ax.xaxis.set_major_locator(MultipleLocator(lay["xstep"]))
    ax.yaxis.set_major_locator(MultipleLocator(lay["ystep"]))
    ax.xaxis.set_major_formatter(spss_fmt(lay["xdec"]))
    ax.yaxis.set_major_formatter(spss_fmt(lay["ydec"]))
    ax.grid(True, color="#d9d9d9", lw=1.0)
    ax.set_axisbelow(True)
    for sp in ("top", "right"):
        ax.spines[sp].set_visible(False)
    for sp in ("left", "bottom"):
        ax.spines[sp].set_color("#a0a0a0")
        ax.spines[sp].set_linewidth(0.8)
    ax.tick_params(length=2.2, width=0.6, color="#b0b0b0", labelsize=4.8,
                   labelcolor="#444444", pad=1.5)
    ax.tick_params(axis="y", pad=3)
    for lab in ax.get_xticklabels() + ax.get_yticklabels():
        lab.set_family("Liberation Sans")

    fig.text(fx(lay["title_at"][0]), fy(lay["title_at"][1]), title, ha="center", va="center",
             fontsize=8.8, family="Lato", color="#111111")
    fig.text(fx(lay["xlab_at"][0]), fy(lay["xlab_at"][1]), xlab, ha="center", va="center",
             fontsize=6.2, weight="bold", family="Liberation Sans", color="#111111")
    if ylab:
        fig.text(fx(lay["ylab_at"][0]), fy(lay["ylab_at"][1]), ylab, ha="center", va="center",
                 rotation=90, fontsize=6.2, weight="bold", family="Liberation Sans",
                 color="#111111")

# open frame of the journal figure
fig.add_artist(Line2D([fx(9), 1], [fy(13), fy(13)], color="#808080", lw=1.0))
fig.add_artist(Line2D([fx(9), fx(9)], [fy(13), 0], color="#808080", lw=1.0))

# caption
head = fig.text(fx(43), fy(668), caption_head, fontsize=10, weight="bold", family="Open Sans",
                color="#5a5a5a", va="baseline")
line1 = fig.text(fx(43), fy(685), caption_lines[0], fontsize=12, family="Open Sans",
                 color="#6e6e6e", va="baseline")
line2 = fig.text(fx(43), fy(707), caption_lines[1], fontsize=12, family="Open Sans",
                 color="#6e6e6e", va="baseline")

fig.canvas.draw()
r = fig.canvas.get_renderer()
scale = (1249 - 43) / line1.get_window_extent(r).width
line1.set_fontsize(12 * scale)
line2.set_fontsize(12 * scale)
head.set_fontsize(10 * 62 / head.get_window_extent(r).width)

fig.savefig("out.png", dpi=100)
